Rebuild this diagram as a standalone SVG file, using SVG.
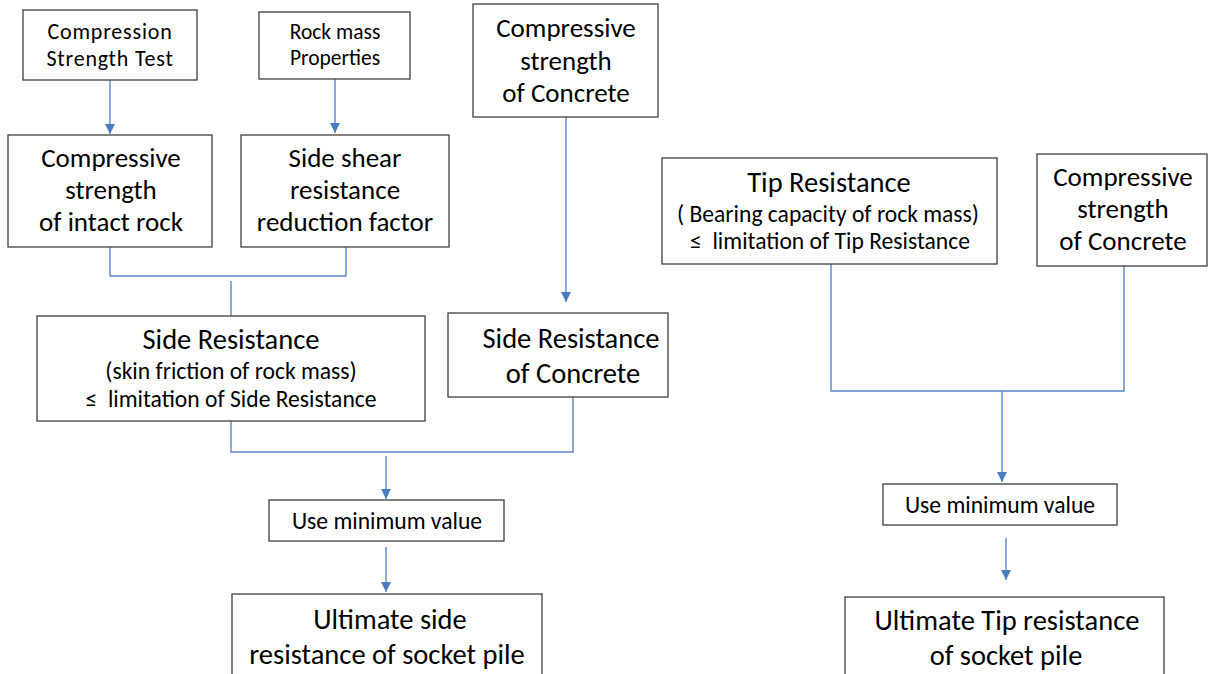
<svg xmlns="http://www.w3.org/2000/svg" width="1210" height="674" viewBox="0 0 1210 674">
<style>
.box{fill:#fff;stroke:#3f3f3f;stroke-width:1.3}
text{font-family:Carlito,Lato,"Liberation Sans",sans-serif;fill:#000;text-anchor:middle}
.b{font-size:27px}
.B{font-size:28.5px}
.m{font-size:23.6px}
.a{font-size:22px;letter-spacing:0.8px}
.s{font-size:21.5px}
.c{fill:none;stroke:#5b87c4;stroke-width:1.4}
</style>
<defs>
<marker id="ah" viewBox="0 0 10 10" refX="10" refY="5" markerWidth="10" markerHeight="10" markerUnits="userSpaceOnUse" orient="auto">
<path d="M0,0 L10,5 L0,10 z" fill="#4a7cc0"/>
</marker>
</defs>
<rect width="1210" height="674" fill="#fff"/>
<g id="connectors">
<path class="c" d="M110,80 V134" marker-end="url(#ah)"/>
<path class="c" d="M335,79 V133" marker-end="url(#ah)"/>
<path class="c" d="M110,247 V276 H346 V247"/>
<path class="c" d="M231,281 V316"/>
<path class="c" d="M566,117 V302" marker-end="url(#ah)"/>
<path class="c" d="M231,421 V452 H573 V397"/>
<path class="c" d="M386,456 V499" marker-end="url(#ah)"/>
<path class="c" d="M386,547 V592" marker-end="url(#ah)"/>
<path class="c" d="M831,264 V391 H1124 V266"/>
<path class="c" d="M1002,391 V482" marker-end="url(#ah)"/>
<path class="c" d="M1006,538 V580" marker-end="url(#ah)"/>
</g>
<g id="n1"><rect class="box" x="23" y="10" width="174" height="70"/>
<text class="a" x="110" y="39">Compression</text><text class="a" x="110" y="65.5">Strength Test</text></g>
<g id="n2"><rect class="box" x="259" y="12" width="151" height="67"/>
<text class="s" x="335" y="39">Rock mass</text><text class="s" x="335" y="65">Properties</text></g>
<g id="n3"><rect class="box" x="8" y="135" width="204" height="112"/>
<text class="b" x="111" y="167">Compressive</text><text class="b" x="111" y="199">strength</text><text class="b" x="111" y="231">of intact rock</text></g>
<g id="n4"><rect class="box" x="241" y="135" width="208" height="112"/>
<text class="b" x="345" y="167">Side shear</text><text class="b" x="345" y="199">resistance</text><text class="b" x="345" y="231">reduction factor</text></g>
<g id="n5"><rect class="box" x="473" y="4" width="185" height="113"/>
<text class="b" x="566" y="37">Compressive</text><text class="b" x="566" y="70">strength</text><text class="b" x="566" y="102">of Concrete</text></g>
<g id="n6"><rect class="box" x="37" y="316" width="388" height="105"/>
<text class="B" x="231" y="349">Side Resistance</text><text class="m" x="231" y="379">(skin friction of rock mass)</text><text class="m" x="231" y="407">≤&#160; limitation of Side Resistance</text></g>
<g id="n7"><rect class="box" x="448" y="313" width="220" height="84"/>
<text class="B" x="571" y="348">Side Resistance</text><text class="B" x="573" y="383">of Concrete</text></g>
<g id="n8"><rect class="box" x="662" y="158" width="335" height="106"/>
<text class="B" x="829" y="192">Tip Resistance</text><text class="m" x="828" y="222">( Bearing capacity of rock mass)</text><text class="m" x="830" y="249">≤&#160; limitation of Tip Resistance</text></g>
<g id="n9"><rect class="box" x="1037" y="154" width="170" height="112"/>
<text class="b" x="1123" y="186">Compressive</text><text class="b" x="1123" y="218">strength</text><text class="b" x="1123" y="250">of Concrete</text></g>
<g id="n10"><rect class="box" x="269" y="500" width="235" height="41"/>
<text class="m" x="387" y="529">Use minimum value</text></g>
<g id="n11"><rect class="box" x="232" y="594" width="310" height="90"/>
<text class="B" x="390" y="629">Ultimate side</text><text class="B" x="387" y="664">resistance of socket pile</text></g>
<g id="n12"><rect class="box" x="883" y="484" width="234" height="41"/>
<text class="m" x="1000" y="513">Use minimum value</text></g>
<g id="n13"><rect class="box" x="845" y="597" width="319" height="90"/>
<text class="B" x="1007" y="630">Ultimate Tip resistance</text><text class="B" x="1006" y="665">of socket pile</text></g>
</svg>
